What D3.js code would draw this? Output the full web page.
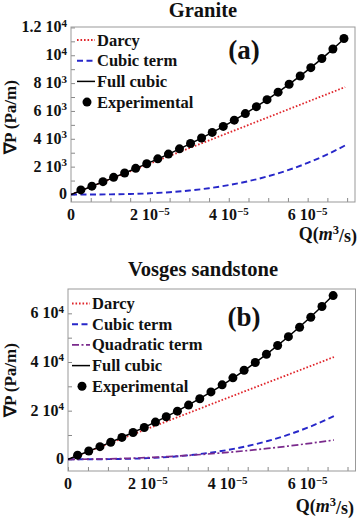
<!DOCTYPE html>
<html>
<head>
<meta charset="utf-8">
<script src="https://cdn.jsdelivr.net/npm/d3@7"></script>
<style>
  body { margin: 0; background: #fff; }
  text { font-family: "Liberation Serif", "Times New Roman", serif; font-weight: bold; fill: #111; }
</style>
</head>
<body>
<div id="chart"></div>
<script>
// Q in units of 1e-5 m^3/s, pressure gradient in Pa/m

// (a) Granite
const graniteExpQ = [0.25, 0.53, 0.81, 1.08, 1.36, 1.64, 1.92, 2.20, 2.47, 2.75, 3.03, 3.31, 3.58,
  3.86, 4.14, 4.42, 4.70, 4.97, 5.25, 5.53, 5.81, 6.08, 6.36, 6.64, 6.92];
const graniteExpP = [330, 600, 920, 1230, 1540, 1880, 2210, 2560, 2900, 3280, 3660, 4060, 4460,
  4890, 5340, 5810, 6310, 6810, 7350, 7920, 8510, 9110, 9770, 10450, 11200];
const graniteCurveQ = [0, 0.5, 1, 1.5, 2, 2.5, 3, 3.5, 4, 4.5, 5, 5.5, 6, 6.5, 6.95];
const graniteDarcy = [0, 555, 1110, 1665, 2220, 2775, 3330, 3885, 4440, 4995, 5550, 6105, 6660, 7215, 7715];
const graniteCubic = [0, 1, 10, 35, 84, 164, 284, 450, 672, 957, 1313, 1747, 2268, 2884, 3525];
const graniteFull = [0, 556, 1120, 1700, 2304, 2939, 3614, 4335, 5112, 5952, 6862, 7852, 8928, 10099, 11240];

// (b) Vosges sandstone
const vosgesExpQ = [0.24, 0.52, 0.80, 1.07, 1.35, 1.63, 1.91, 2.19, 2.46, 2.74, 3.02, 3.30,
  3.58, 3.86, 4.13, 4.41, 4.69, 4.97, 5.25, 5.52, 5.80, 6.08, 6.36, 6.64];
const vosgesExpP = [1700, 3400, 5200, 7000, 9000, 11000, 13100, 15300, 17500, 19800, 22300, 24900,
  27700, 30600, 33500, 36600, 39800, 43200, 46800, 50400, 54300, 58400, 62800, 67300];
const vosgesCurveQ = [0, 0.5, 1, 1.5, 2, 2.5, 3, 3.5, 4, 4.5, 5, 5.5, 6, 6.5, 6.66];
const vosgesDarcy = [0, 3157, 6314, 9471, 12628, 15785, 18942, 22099, 25256, 28413, 31570, 34727, 37884, 41041, 42051];
const vosgesQuad = [0, 45, 179, 402, 715, 1118, 1609, 2190, 2861, 3621, 4470, 5409, 6437, 7554, 7931];
const vosgesCubic = [0, 8, 60, 203, 482, 941, 1627, 2583, 3856, 5490, 7531, 10024, 13014, 16546, 17800];
const vosgesFull = [0, 3209, 6553, 10076, 13825, 17844, 22178, 26872, 31973, 37524, 43571, 50160, 57335, 65141, 67782];

const xMajor = [0, 2, 4, 6];
const graniteYMajor = [0, 2000, 4000, 6000, 8000, 10000, 12000];
const vosgesYMajor = [0, 20000, 40000, 60000];

const styles = {
  darcy: { stroke: "#e0252b", width: 1.8, dash: "1.6,1.9" },
  cubic: { stroke: "#2727c9", width: 1.9, dash: "6,3.5" },
  quad:  { stroke: "#7a2a8c", width: 1.7, dash: "7,2.5,2,2.5" },
  full:  { stroke: "#000", width: 1.5, dash: null }
};

const svg = d3.select("#chart").append("svg")
  .attr("width", 359).attr("height", 520);

// "m 10^e" style label, with superscript
function sciLabel(textSel, v, expOffset) {
  if (v === 0) { textSel.append("tspan").text("0"); return; }
  const e = Math.floor(Math.log10(Math.abs(v)) + 1e-9);
  const m = +(v / Math.pow(10, e)).toFixed(2);
  textSel.append("tspan").text(m === 1 ? "10" : m + " 10");
  textSel.append("tspan").attr("dy", "-0.5em").attr("font-size", "11px")
    .text(String(e + expOffset).replace("-", "\u2212"));
}

function drawPanel(p) {
  const g = svg.append("g");
  const x = d3.scaleLinear().domain([0, 7.2]).range([p.left, p.right]);
  const y = d3.scaleLinear().domain(p.yDomain).range([p.bottom, p.top]);

  const clipId = "clip-" + p.id;
  svg.append("clipPath").attr("id", clipId).append("rect")
    .attr("x", p.left).attr("y", p.top)
    .attr("width", p.right - p.left).attr("height", p.bottom - p.top);

  // ticks (inward), major + minor
  const xMinor = d3.range(0, 7.01, 0.5);
  const yMinor = d3.range(0, p.yDomain[1], p.yMinorStep);
  g.append("g").attr("transform", `translate(0,${p.bottom})`)
    .call(d3.axisBottom(x).tickValues(xMinor).tickSize(-4).tickFormat(""))
    .call(a => a.select(".domain").remove())
    .call(a => a.selectAll("line").attr("stroke", "#888"));
  g.append("g").attr("transform", `translate(${p.left},0)`)
    .call(d3.axisLeft(y).tickValues(yMinor).tickSize(-4).tickFormat(""))
    .call(a => a.select(".domain").remove())
    .call(a => a.selectAll("line").attr("stroke", "#888"));

  g.append("rect")
    .attr("x", p.left).attr("y", p.top)
    .attr("width", p.right - p.left).attr("height", p.bottom - p.top)
    .attr("fill", "none").attr("stroke", "#999").attr("stroke-width", 1);

  // tick labels
  p.yMajor.forEach(v => {
    const t = g.append("text").attr("x", p.left - 4).attr("y", y(v) + 5)
      .attr("text-anchor", "end").attr("font-size", "16px");
    sciLabel(t, v, 0);
  });
  xMajor.forEach(v => {
    const t = g.append("text").attr("x", x(v)).attr("y", p.bottom + 18)
      .attr("text-anchor", "middle").attr("font-size", "16px");
    sciLabel(t, v, -5);
  });

  // curves
  const plot = g.append("g").attr("clip-path", `url(#${clipId})`);
  const line = d3.line().curve(d3.curveMonotoneX)
    .x(d => x(d[0])).y(d => y(d[1]));
  p.curves.forEach(c => {
    const s = styles[c.key];
    plot.append("path")
      .datum(p.curveQ.map((q, i) => [q, c.values[i]]))
      .attr("d", line)
      .attr("fill", "none")
      .attr("stroke", s.stroke)
      .attr("stroke-width", s.width)
      .attr("stroke-dasharray", s.dash);
  });

  plot.selectAll("circle.exp")
    .data(p.expQ.map((q, i) => [q, p.expP[i]]))
    .enter().append("circle")
    .attr("class", "exp")
    .attr("cx", d => x(d[0])).attr("cy", d => y(d[1]))
    .attr("r", 4.5).attr("fill", "#000");

  // legend
  p.legend.forEach((item, i) => {
    const ly = p.legendTop + i * 20.7;
    if (item.key === "exp") {
      g.append("circle").attr("cx", p.legendX + 10).attr("cy", ly).attr("r", 4.5).attr("fill", "#000");
    } else {
      const s = styles[item.key];
      g.append("line")
        .attr("x1", p.legendX).attr("x2", p.legendX + 18)
        .attr("y1", ly).attr("y2", ly)
        .attr("stroke", s.stroke).attr("stroke-width", s.width)
        .attr("stroke-dasharray", s.dash);
    }
    g.append("text").attr("x", p.legendX + 20).attr("y", ly + 5.5)
      .attr("font-size", "16.5px").text(item.label);
  });

  // titles and axis labels
  g.append("text").attr("x", 203).attr("y", p.titleY)
    .attr("text-anchor", "middle").attr("font-size", "20.5px").text(p.title);
  g.append("text").attr("x", 244).attr("y", p.tagY)
    .attr("text-anchor", "middle").attr("font-size", "27px").text(p.tag);

  g.append("text")
    .attr("transform", `translate(16,${p.yLabelY}) rotate(-90)`)
    .attr("text-anchor", "middle").attr("font-size", "17px")
    .text("\u2207P (Pa/m)");

  const xl = g.append("text").attr("x", p.xLabelX).attr("y", p.xLabelY)
    .attr("text-anchor", "end").attr("font-size", "18px");
  xl.append("tspan").text("Q(");
  xl.append("tspan").attr("font-style", "italic").text("m");
  xl.append("tspan").attr("dy", "-0.45em").attr("font-size", "12.5px").text("3");
  xl.append("tspan").attr("dy", "0.45em").text("/s)");
}

drawPanel({
  id: "a", left: 71, right: 355, top: 27, bottom: 202,
  yDomain: [-540, 12030], yMajor: graniteYMajor, yMinorStep: 1000,
  curveQ: graniteCurveQ,
  curves: [
    { key: "darcy", values: graniteDarcy },
    { key: "cubic", values: graniteCubic },
    { key: "full", values: graniteFull }
  ],
  expQ: graniteExpQ, expP: graniteExpP,
  legendX: 77, legendTop: 40,
  legend: [
    { key: "darcy", label: "Darcy" },
    { key: "cubic", label: "Cubic term" },
    { key: "full", label: "Full cubic" },
    { key: "exp", label: "Experimental" }
  ],
  title: "Granite", titleY: 17, tag: "(a)", tagY: 59,
  yLabelY: 117, xLabelX: 357, xLabelY: 240
});

drawPanel({
  id: "b", left: 68, right: 355.5, top: 289, bottom: 471,
  yDomain: [-4800, 70000], yMajor: vosgesYMajor, yMinorStep: 10000,
  curveQ: vosgesCurveQ,
  curves: [
    { key: "darcy", values: vosgesDarcy },
    { key: "cubic", values: vosgesCubic },
    { key: "quad", values: vosgesQuad },
    { key: "full", values: vosgesFull }
  ],
  expQ: vosgesExpQ, expP: vosgesExpP,
  legendX: 72, legendTop: 303.5,
  legend: [
    { key: "darcy", label: "Darcy" },
    { key: "cubic", label: "Cubic term" },
    { key: "quad", label: "Quadratic term" },
    { key: "full", label: "Full cubic" },
    { key: "exp", label: "Experimental" }
  ],
  title: "Vosges sandstone", titleY: 276, tag: "(b)", tagY: 326,
  yLabelY: 380, xLabelX: 354, xLabelY: 512
});
</script>
</body>
</html>
